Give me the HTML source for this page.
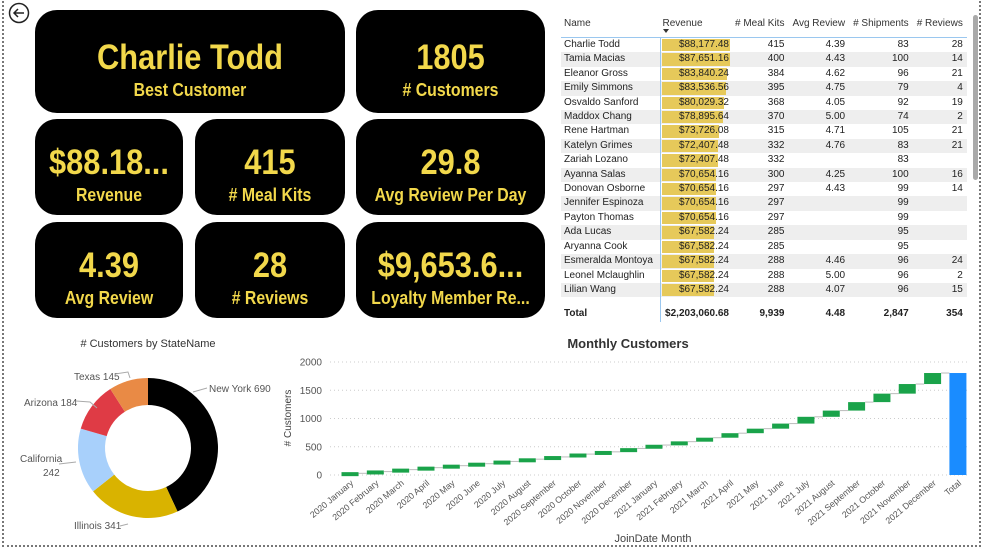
<!DOCTYPE html>
<html><head><meta charset="utf-8"><style>
body{margin:0;width:987px;height:551px;background:#fff;overflow:hidden;font-family:"Liberation Sans",sans-serif;position:relative}
.frame{position:absolute;left:2px;top:1px;width:979px;height:546px;border:2px dotted #777;border-top:none;box-sizing:border-box}
.card{position:absolute;background:#000;border-radius:22px;color:#f2d84b;text-align:center;font-weight:bold;overflow:hidden;white-space:nowrap}
.card .v,.card .l{display:block;transform:scaleX(0.88);transform-origin:center}
table{position:absolute;left:561px;top:12px;border-collapse:collapse;font-size:10px;color:#222}
td,th{padding:0 3px;height:14.4px;line-height:14.4px;white-space:nowrap}
th{font-weight:normal;color:#333;height:25px;text-align:right;border-bottom:1px solid #9ac7ef;padding:0 4px}
tr.a td{background:#eee}
td.n{text-align:left;width:93px;border-right:1px solid #9ac7ef}
td.r{position:relative;width:66px;text-align:right;padding:0 2px}
td.r span{position:absolute;left:1px;top:1px;bottom:1px;background:#e6c95a;z-index:0}
td.r b{position:relative;z-index:1;font-weight:normal}
td.x{text-align:right;padding:0 4px}
</style></head><body>
<div class="frame"></div>
<svg style="position:absolute;left:8px;top:2px" width="24" height="24"><circle cx="11" cy="11" r="9.5" fill="#fff" stroke="#222" stroke-width="1.5"/><path d="M16 11H6M10 7L6 11L10 15" fill="none" stroke="#222" stroke-width="1.5"/></svg>

<div class="card" style="left:35px;top:10px;width:310px;height:103px"><span class="v" style="font-size:35px;margin-top:28px;line-height:40px">Charlie Todd</span><span class="l" style="font-size:18px;line-height:24px">Best Customer</span></div>
<div class="card" style="left:356px;top:10px;width:189px;height:103px"><span class="v" style="font-size:35px;margin-top:28px;line-height:40px">1805</span><span class="l" style="font-size:18px;line-height:24px"># Customers</span></div>
<div class="card" style="left:35px;top:119px;width:148px;height:96px"><span class="v" style="font-size:35px;margin-top:24px;line-height:40px">$88.18...</span><span class="l" style="font-size:18px;line-height:24px">Revenue</span></div>
<div class="card" style="left:195px;top:119px;width:150px;height:96px"><span class="v" style="font-size:35px;margin-top:24px;line-height:40px">415</span><span class="l" style="font-size:18px;line-height:24px"># Meal Kits</span></div>
<div class="card" style="left:356px;top:119px;width:189px;height:96px"><span class="v" style="font-size:35px;margin-top:24px;line-height:40px">29.8</span><span class="l" style="font-size:18px;line-height:24px">Avg Review Per Day</span></div>
<div class="card" style="left:35px;top:222px;width:148px;height:96px"><span class="v" style="font-size:35px;margin-top:24px;line-height:40px">4.39</span><span class="l" style="font-size:18px;line-height:24px">Avg Review</span></div>
<div class="card" style="left:195px;top:222px;width:150px;height:96px"><span class="v" style="font-size:35px;margin-top:24px;line-height:40px">28</span><span class="l" style="font-size:18px;line-height:24px"># Reviews</span></div>
<div class="card" style="left:356px;top:222px;width:189px;height:96px"><span class="v" style="font-size:35px;margin-top:24px;line-height:40px">$9,653.6...</span><span class="l" style="font-size:18px;line-height:24px">Loyalty Member Re...</span></div>

<table id="t"><thead><tr><th style="text-align:left;padding-left:3px">Name</th><th style="text-align:left;padding-left:2px">Revenue</th><th># Meal Kits</th><th>Avg Review</th><th># Shipments</th><th># Reviews</th></tr></thead><tbody id="tb"></tbody></table>
<div style="position:absolute;left:973px;top:15px;width:5px;height:165px;background:#aaa;border-radius:3px"></div>
<div style="position:absolute;left:663px;top:29px;width:0;height:0;border-left:3px solid transparent;border-right:3px solid transparent;border-top:4px solid #333"></div>

<svg id="ch" style="position:absolute;left:0;top:0" width="987" height="551"></svg>
<script>
const rows=[["Charlie Todd",88177.48,415,"4.39",83,28],["Tamia Macias",87651.16,400,"4.43",100,14],["Eleanor Gross",83840.24,384,"4.62",96,21],["Emily Simmons",83536.56,395,"4.75",79,4],["Osvaldo Sanford",80029.32,368,"4.05",92,19],["Maddox Chang",78895.64,370,"5.00",74,2],["Rene Hartman",73726.08,315,"4.71",105,21],["Katelyn Grimes",72407.48,332,"4.76",83,21],["Zariah Lozano",72407.48,332,"",83,""],["Ayanna Salas",70654.16,300,"4.25",100,16],["Donovan Osborne",70654.16,297,"4.43",99,14],["Jennifer Espinoza",70654.16,297,"",99,""],["Payton Thomas",70654.16,297,"",99,""],["Ada Lucas",67582.24,285,"",95,""],["Aryanna Cook",67582.24,285,"",95,""],["Esmeralda Montoya",67582.24,288,"4.46",96,24],["Leonel Mclaughlin",67582.24,288,"5.00",96,2],["Lilian Wang",67582.24,288,"4.07",96,15]];
let h="";rows.forEach((r,i)=>{const w=Math.round(68*r[1]/88177.48);h+=`<tr class="${i%2?'a':''}"><td class="n">${r[0]}</td><td class="r"><span style="width:${w}px"></span><b>$${r[1].toLocaleString('en-US',{minimumFractionDigits:2})}</b></td><td class="x">${r[2]}</td><td class="x">${r[3]}</td><td class="x">${r[4]}</td><td class="x">${r[5]}</td></tr>`});
const P='style="padding-top:10px"';
h+=`<tr style="font-weight:bold"><td class="n" ${P}>Total</td><td class="r" ${P}><b style="font-weight:bold">$2,203,060.68</b></td><td class="x" ${P}>9,939</td><td class="x" ${P}>4.48</td><td class="x" ${P}>2,847</td><td class="x" ${P}>354</td></tr>`;
document.getElementById('tb').innerHTML=h;
let s="";
const cx=148,cy=448,R=70,r=43,data=[[690,"#000"],[341,"#d9b300"],[242,"#a8d0fb"],[184,"#df3b45"],[145,"#e98a45"]];let a0=-Math.PI/2;const tot=1602;
data.forEach(d=>{const a1=a0+d[0]/tot*2*Math.PI,L=(a1-a0)>Math.PI?1:0;const p=(rr,a)=>`${cx+rr*Math.cos(a)},${cy+rr*Math.sin(a)}`;s+=`<path d="M${p(R,a0)}A${R},${R} 0 ${L} 1 ${p(R,a1)}L${p(r,a1)}A${r},${r} 0 ${L} 0 ${p(r,a0)}Z" fill="${d[1]}"/>`;a0=a1});
s+=`<text x="148" y="347" font-size="11" text-anchor="middle" fill="#333">#&#160;Customers by StateName</text>`;
const lab=[[209,392,"New York 690",[[193,392],[207,388]]],[74,380,"Texas 145",[[115,374],[128,372],[130,378]]],[24,406,"Arizona 184",[[76,401],[90,402],[97,408]]],[20,462,"California",[[59,464],[76,462]]],[43,476,"242",[]],[74,529,"Illinois 341",[[120,526],[128,524]]]];
lab.forEach(l=>{s+=`<text x="${l[0]}" y="${l[1]}" font-size="10" fill="#555">${l[2]}</text>`;if(l[3].length)s+=`<polyline points="${l[3].map(q=>q.join(',')).join(' ')}" fill="none" stroke="#aaa"/>`});
const y0=475,k=113/2000;const Y=v=>y0-v*k;
s+=`<text x="628" y="348" font-size="13" font-weight="bold" text-anchor="middle" fill="#333">Monthly Customers</text>`;
[0,500,1000,1500,2000].forEach(v=>{s+=`<line x1="330" x2="970" y1="${Y(v)}" y2="${Y(v)}" stroke="#ccc" stroke-dasharray="1,3"/><text x="322" y="${Y(v)+3.5}" font-size="10" text-anchor="end" fill="#555">${v}</text>`});
s+=`<text transform="translate(291,418) rotate(-90)" font-size="10" text-anchor="middle" fill="#444"># Customers</text>`;
const cum=[0,30,60,95,130,165,200,240,280,320,370,410,470,530,590,660,740,820,910,1030,1140,1290,1440,1610,1805];
const months=["January","February","March","April","May","June","July","August","September","October","November","December"];
const cats=[];[2020,2021].forEach(y=>months.forEach(m=>cats.push(y+" "+m)));cats.push("Total");
const step=25.33,x0=350,bw=17;
for(let i=0;i<25;i++){const xc=x0+i*step;
 if(i<24){let t=Y(cum[i+1]),b=Y(cum[i]);if(b-t<4){const m=(t+b)/2;t=m-2;b=m+2}s+=`<rect x="${xc-bw/2}" y="${t}" width="${bw}" height="${b-t}" fill="#1aa34a"/>`;s+=`<line x1="${xc+bw/2}" x2="${xc+step-bw/2}" y1="${Y(cum[i+1])}" y2="${Y(cum[i+1])}" stroke="#bbb"/>`}
 else s+=`<rect x="${xc-bw/2}" y="${Y(1805)}" width="${bw}" height="${1805*k}" fill="#1a8cff"/>`;
 s+=`<text transform="translate(${xc+4},${y0+9}) rotate(-40)" font-size="8.8" text-anchor="end" fill="#555">${cats[i]}</text>`}
s+=`<text x="653" y="542" font-size="11" text-anchor="middle" fill="#444">JoinDate Month</text>`;
document.getElementById('ch').innerHTML=s;
</script>
</body></html>
